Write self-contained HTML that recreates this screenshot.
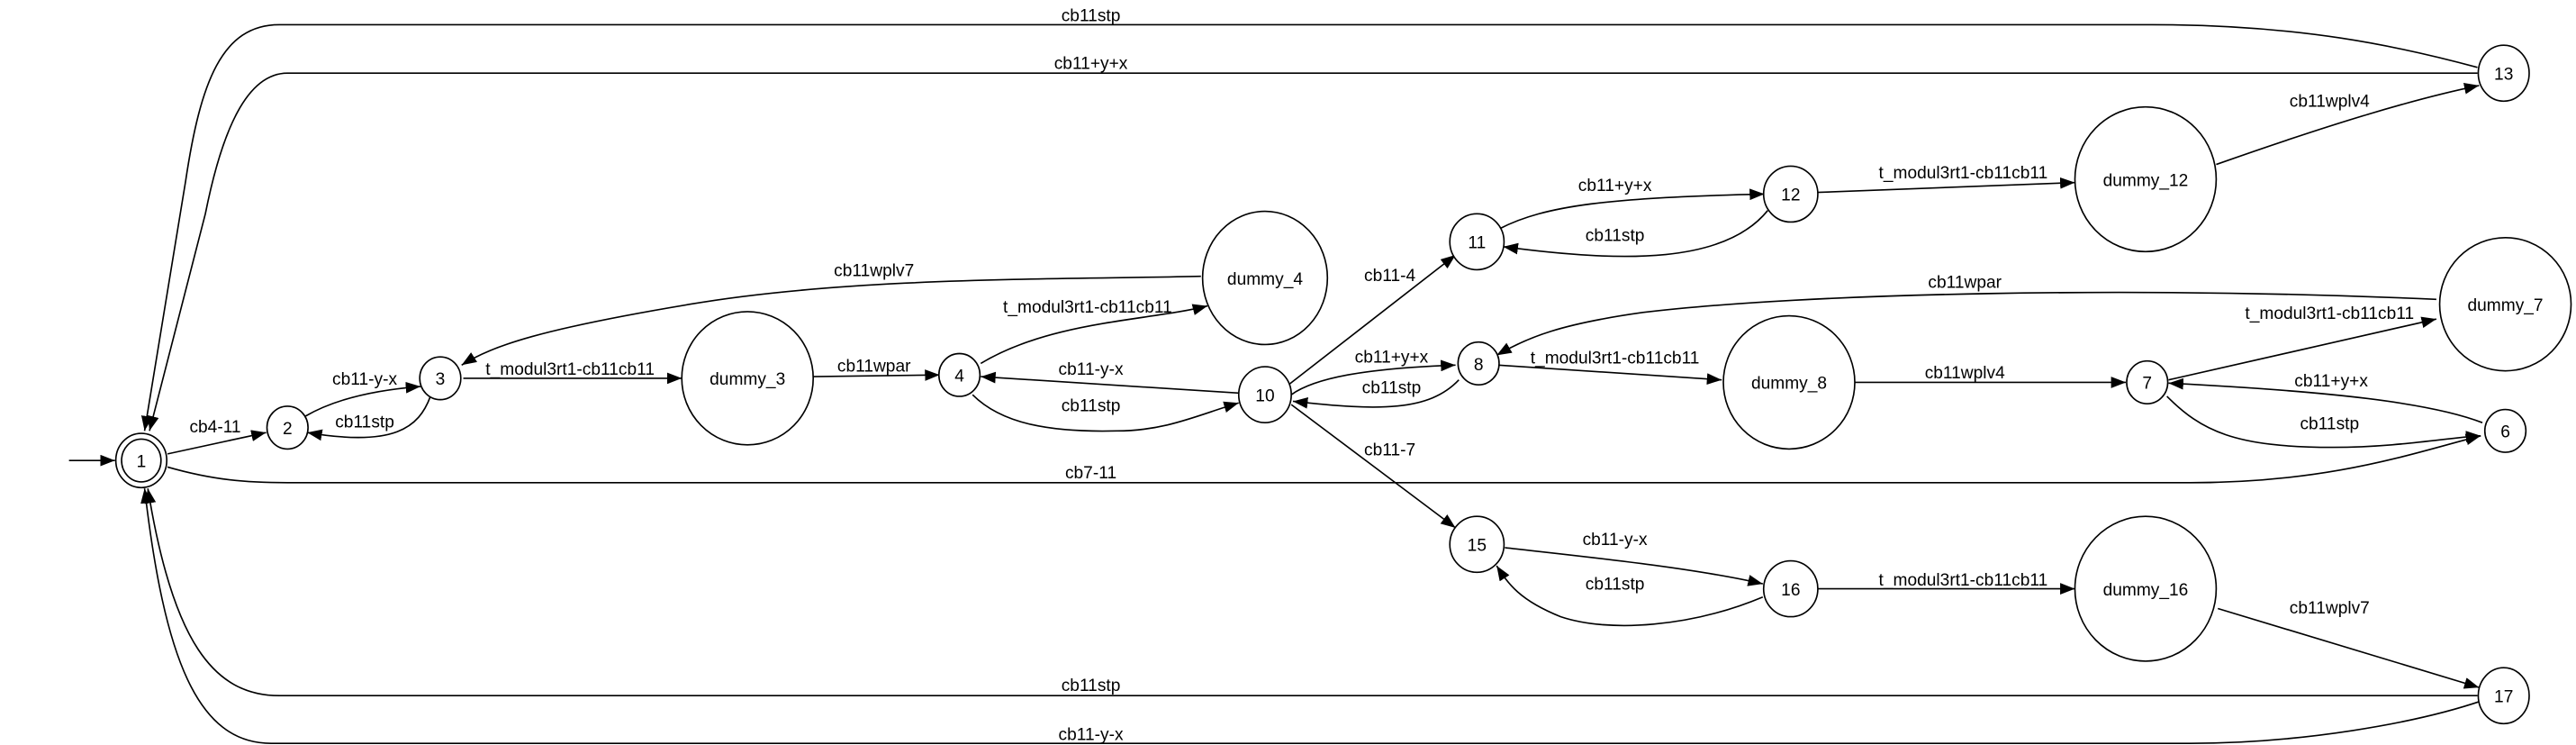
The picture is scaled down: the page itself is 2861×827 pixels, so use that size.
<!DOCTYPE html>
<html><head><meta charset="utf-8"><style>html,body{margin:0;padding:0;background:#fff}svg{display:block}</style></head>
<body>
<svg xmlns="http://www.w3.org/2000/svg" width="2861" height="827" viewBox="0 0 1568 453" preserveAspectRatio="none">
<defs><marker id="a" markerUnits="userSpaceOnUse" markerWidth="9" markerHeight="7" refX="9" refY="3.5" orient="auto"><path d="M0,0L9,3.5L0,7z" fill="#000"/></marker></defs>
<g fill="none" stroke="#000" stroke-width="0.9" marker-end="url(#a)">
<path d="M42,280H70"/>
<path d="M1508,41C1460,28 1400,15 1310,15L170,15C135,15 122,50 113,110L88,262"/>
<path d="M1508,44.5L175,44.5C150,44.5 135,80 125,130L91,262"/>
<path d="M102,284C130,292 150,293.5 175,293.5L1333,293.5C1420,293.5 1470,275 1510,265"/>
<path d="M1508,423L170,423C130,423 105,390 90,297"/>
<path d="M1511,426C1470,440 1400,452 1333,452L165,452C120,452 100,400 88,297"/>
<path d="M102,276L162,263"/>
<path d="M186,253C205,242 230,237 256,235"/>
<path d="M262,241C255,260 240,272 187,263"/>
<path d="M282,230H415"/>
<path d="M731,168C650,170 520,168 420,185C330,200 300,210 281,222"/>
<path d="M495,229L572,228"/>
<path d="M597,221C640,195 700,195 735,186"/>
<path d="M754,239L597,229"/>
<path d="M592,240C610,258 640,263 680,262C710,262 730,252 754,245"/>
<path d="M783,235L886,155"/>
<path d="M786,240C800,230 830,224 886,222"/>
<path d="M888,231C870,250 840,250 787,244"/>
<path d="M786,246L886,321"/>
<path d="M913,139C940,125 980,120 1074,118"/>
<path d="M1076,128C1050,160 990,160 915,150"/>
<path d="M1106,117L1263,111"/>
<path d="M1349,100C1420,75 1470,60 1509,52"/>
<path d="M1483,182C1300,174 1100,178 1000,190C950,197 930,205 911,216"/>
<path d="M912,222L1048,231"/>
<path d="M1129,232.5H1294"/>
<path d="M1320,231L1483,194"/>
<path d="M1511,257C1480,245 1420,238 1320,233"/>
<path d="M1319,241C1340,262 1360,272 1420,272C1460,272 1490,266 1510,265"/>
<path d="M916,333C960,338 1030,345 1073,355"/>
<path d="M1073,363C1030,381 980,385 950,375C925,365 918,355 911,344"/>
<path d="M1106,358H1263"/>
<path d="M1350,370L1509,418"/>
</g>
<g fill="#fff" stroke="#000" stroke-width="0.9">
<ellipse cx="86" cy="280" rx="15.5" ry="16.5"/><ellipse cx="86" cy="280" rx="12" ry="13"/>
<ellipse cx="175" cy="260" rx="12.5" ry="13"/><ellipse cx="268" cy="230" rx="12.5" ry="13"/>
<ellipse cx="455" cy="230" rx="40" ry="40.5"/><ellipse cx="584" cy="228" rx="12.5" ry="13"/>
<ellipse cx="770" cy="169" rx="38" ry="40.5"/><ellipse cx="770" cy="240" rx="16" ry="17"/>
<ellipse cx="899" cy="147" rx="16.5" ry="17"/><ellipse cx="1090" cy="118" rx="16.5" ry="17"/>
<ellipse cx="1306" cy="109" rx="43" ry="44"/><ellipse cx="1524" cy="44.5" rx="15.5" ry="17"/>
<ellipse cx="900" cy="221" rx="12.5" ry="13"/><ellipse cx="1089" cy="232.5" rx="40" ry="40.5"/>
<ellipse cx="1307" cy="232.5" rx="12.5" ry="13"/><ellipse cx="1525" cy="185" rx="40" ry="40.5"/>
<ellipse cx="1525" cy="262" rx="12.5" ry="13"/><ellipse cx="899" cy="331" rx="16.5" ry="17"/>
<ellipse cx="1090" cy="358" rx="16.5" ry="17"/><ellipse cx="1306" cy="358" rx="43" ry="44"/>
<ellipse cx="1524" cy="423" rx="15.5" ry="17"/>
</g>
<g font-family="Liberation Sans, sans-serif" font-size="10.5" text-anchor="middle" fill="#000">
<text x="86" y="284">1</text><text x="175" y="264">2</text><text x="268" y="234">3</text>
<text x="455" y="234">dummy_3</text><text x="584" y="232">4</text><text x="770" y="173">dummy_4</text>
<text x="770" y="244">10</text><text x="899" y="151">11</text><text x="1090" y="122">12</text>
<text x="1306" y="113">dummy_12</text><text x="1524" y="48.5">13</text><text x="900" y="225">8</text>
<text x="1089" y="236.5">dummy_8</text><text x="1307" y="236.5">7</text><text x="1525" y="189">dummy_7</text>
<text x="1525" y="266">6</text><text x="899" y="335">15</text><text x="1090" y="362">16</text>
<text x="1306" y="362">dummy_16</text><text x="1524" y="427">17</text>
<text x="664" y="13">cb11stp</text><text x="664" y="42">cb11+y+x</text><text x="664" y="291">cb7-11</text>
<text x="664" y="420">cb11stp</text><text x="664" y="450">cb11-y-x</text>
<text x="131" y="263">cb4-11</text><text x="222" y="234">cb11-y-x</text><text x="222" y="260">cb11stp</text>
<text x="347" y="228">t_modul3rt1-cb11cb11</text><text x="532" y="168">cb11wplv7</text>
<text x="532" y="226">cb11wpar</text><text x="662" y="190">t_modul3rt1-cb11cb11</text>
<text x="664" y="228">cb11-y-x</text><text x="664" y="250">cb11stp</text>
<text x="846" y="171">cb11-4</text><text x="847" y="220.5">cb11+y+x</text><text x="847" y="239">cb11stp</text>
<text x="846" y="277">cb11-7</text><text x="983" y="116">cb11+y+x</text><text x="983" y="146.5">cb11stp</text>
<text x="1195" y="108.5">t_modul3rt1-cb11cb11</text><text x="1418" y="65">cb11wplv4</text>
<text x="1196" y="175">cb11wpar</text><text x="983" y="221">t_modul3rt1-cb11cb11</text>
<text x="1196" y="230">cb11wplv4</text><text x="1418" y="194">t_modul3rt1-cb11cb11</text>
<text x="1419" y="235">cb11+y+x</text><text x="1418" y="261">cb11stp</text>
<text x="983" y="331.5">cb11-y-x</text><text x="983" y="358.5">cb11stp</text>
<text x="1195" y="356">t_modul3rt1-cb11cb11</text><text x="1418" y="373">cb11wplv7</text>
</g>
</svg>
</body></html>
